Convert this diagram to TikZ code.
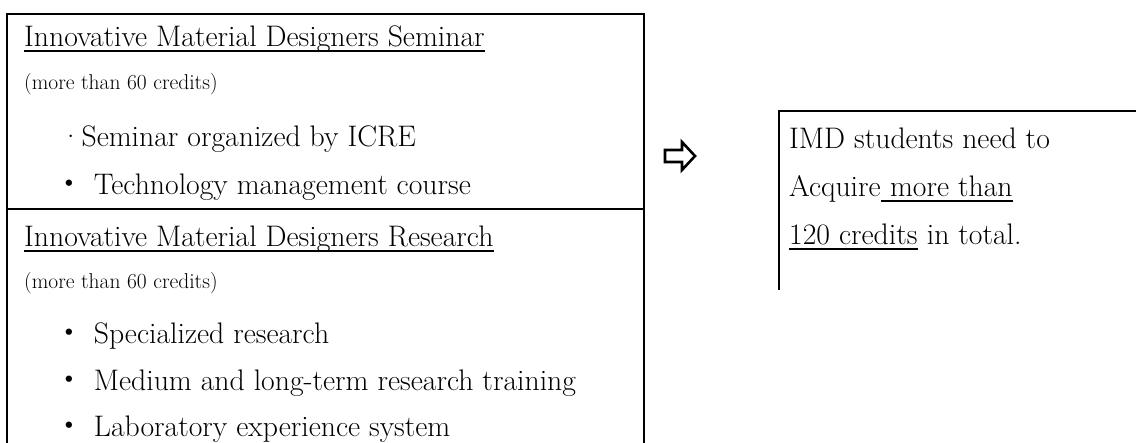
\documentclass[tikz,border=0pt]{standalone}
\usepackage{fontspec}
\newfontfamily\cjk{Noto Sans CJK JP}
\newcommand\kdot{{\cjk ・}\hspace{10pt}}
\begin{document}
\begin{tikzpicture}[x=1pt,y=-1pt,
  frame/.style={line width=2.6pt,line join=miter},
  big/.style={inner sep=0pt,anchor=base west,font=\fontsize{29.7}{35}\selectfont},
  small/.style={inner sep=0pt,anchor=base west,font=\fontsize{21.5}{26}\selectfont},
  uline/.style={line width=1.4pt},
  whitearrow/.style={line width=2.6pt,fill=white,line join=miter}]
\useasboundingbox (0,0) rectangle (1136,443);
% left box
\draw[frame] (7,443) -- (7,14) -- (644,14) -- (644,443);
\draw[frame] (7,209) -- (644,209);
% right box
\draw[frame] (779,290) -- (779,111) -- (1140,111);
% arrow
\draw[whitearrow] (665,150) -- (682,150) -- (682,142) -- (695,156) -- (682,170) -- (682,162) -- (665,162) -- cycle;
% left texts
\node[big] (t1) at (24,47) {Innovative Material Designers Seminar};
\node[small] (c1) at (24,90) {(more than 60 credits)};
\node[big] (b1) at (60,147) {·Seminar organized by ICRE};
\node[big] (b2) at (54,195) {\kdot Technology management course};
\node[big] (t2) at (24,247) {Innovative Material Designers Research};
\node[small] (c2) at (24,289) {(more than 60 credits)};
\node[big] (b3) at (54,344) {\kdot Specialized research};
\node[big] (b4) at (54,391) {\kdot Medium and long-term research training};
\node[big] (b5) at (54,437) {\kdot Laboratory experience system};
% right texts
\node[big] (r1) at (789,149) {IMD students need to};
\node[big] (r2a) at (789,197) {Acquire};
\node[big] (r2b) at (r2a.base east) {\ more than\ };
\node[big] (r3a) at (789,245) {120 credits};
\node[big] (r3b) at (r3a.base east) {\ in total.};
% underlines
\draw[uline] ([yshift=-4pt]t1.base west) -- ([yshift=-4pt]t1.base east);
\draw[uline] ([yshift=-4pt]t2.base west) -- ([yshift=-4pt]t2.base east);
\draw[uline] ([yshift=-4pt]r2b.base west) -- ([yshift=-4pt]r2b.base east);
\draw[uline] ([yshift=-4pt]r3a.base west) -- ([yshift=-4pt]r3a.base east);
\end{tikzpicture}
\end{document}
